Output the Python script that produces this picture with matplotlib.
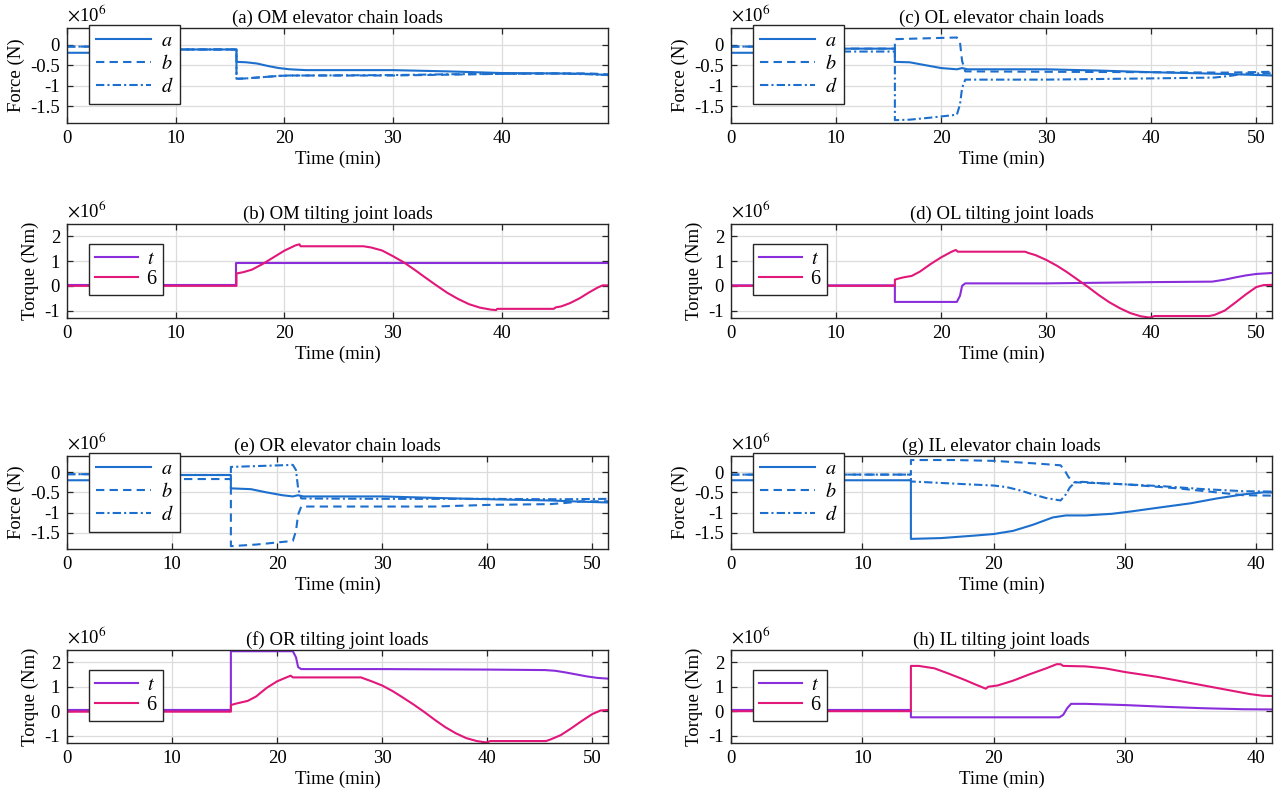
import matplotlib
matplotlib.use("Agg")
import matplotlib.pyplot as plt
from matplotlib.ticker import FormatStrFormatter

plt.rcParams['font.family'] = ['Liberation Serif', 'DejaVu Serif']
plt.rcParams['mathtext.fontset'] = 'stix'
plt.rcParams['axes.unicode_minus'] = False

BLUE = '#1d6fcd'
PURPLE = '#8a2ddb'
PINK = '#e2177a'

# ---- (a) OM elevator chain loads ----
om_el_ta = [0, 8, 8, 15.6, 15.6, 16.5, 17.5, 18.5, 19.5, 20.5, 22, 30, 35, 40, 45, 48, 49.8]
om_el_a = [-0.2, -0.2, -0.12, -0.12, -0.42, -0.43, -0.46, -0.52, -0.57, -0.6, -0.62, -0.62, -0.65, -0.69, -0.7, -0.71, -0.74]
om_el_tb = [0, 8, 8, 15.6, 15.6, 16.5, 17.5, 18.5, 19.5, 20.5, 22, 30, 35, 40, 45, 48, 49.8]
om_el_b = [-0.05, -0.05, -0.12, -0.12, -0.83, -0.82, -0.8, -0.78, -0.76, -0.75, -0.75, -0.75, -0.73, -0.71, -0.7, -0.7, -0.72]
om_el_td = [0, 8, 8, 15.6, 15.6, 16.5, 17.5, 18.5, 19.5, 20.5, 22, 30, 35, 40, 45, 48, 49.8]
om_el_d = [-0.05, -0.05, -0.12, -0.12, -0.83, -0.82, -0.8, -0.78, -0.76, -0.75, -0.75, -0.74, -0.72, -0.71, -0.7, -0.72, -0.74]

# ---- (b) OM tilting joint loads ----
om_tj_tt = [0, 15.6, 15.6, 49.8]
om_tj_t = [0.02, 0.02, 0.92, 0.92]
om_tj_t6 = [0, 15.6, 15.6, 16.2, 17, 18, 19, 20, 21, 21.4, 21.5, 27.3, 28, 29, 30, 31, 32, 33, 34, 35, 36, 37, 38, 39,
            39.5, 39.6, 44.8, 45, 45.5, 46.3, 47.2, 48, 48.8, 49.3, 49.8]
om_tj_6 = [0, 0, 0.5, 0.55, 0.65, 0.88, 1.15, 1.42, 1.63, 1.68, 1.6, 1.6, 1.55, 1.43, 1.2, 0.95, 0.65, 0.33, 0.02, -0.28,
           -0.53, -0.74, -0.88, -0.96, -0.98, -0.93, -0.93, -0.87, -0.83, -0.7, -0.5, -0.28, -0.08, 0.02, 0.02]

# ---- (c) OL elevator chain loads ----
ol_el_ta = [0, 8, 8, 15.6, 15.6, 17, 18.5, 20, 21.5, 22, 22.5, 30, 35, 40, 45, 48, 51.5]
ol_el_a = [-0.2, -0.2, -0.1, -0.1, -0.42, -0.43, -0.5, -0.57, -0.6, -0.57, -0.6, -0.6, -0.63, -0.67, -0.7, -0.72, -0.75]
ol_el_tb = [0, 8, 8, 15.6, 15.6, 21.5, 21.8, 22.0, 22.3, 30, 40, 47, 51.5]
ol_el_b = [-0.05, -0.05, -0.1, -0.1, 0.13, 0.17, 0.05, -0.4, -0.65, -0.66, -0.67, -0.68, -0.66]
ol_el_td = [0, 8, 8, 15.6, 15.6, 17, 19, 21.5, 21.8, 22.0, 22.3, 30, 40, 46, 47.5, 49, 51.5]
ol_el_d = [-0.05, -0.05, -0.17, -0.17, -1.83, -1.82, -1.77, -1.7, -1.45, -1.05, -0.85, -0.85, -0.82, -0.8, -0.76, -0.7, -0.7]

# ---- (d) OL tilting joint loads ----
ol_tj_tt = [0, 15.6, 15.6, 21.5, 21.8, 22.0, 22.3, 30, 40, 45.8, 47, 48, 49, 50, 51.5]
ol_tj_t = [0.02, 0.02, -0.65, -0.65, -0.4, 0.0, 0.1, 0.1, 0.15, 0.17, 0.25, 0.34, 0.42, 0.48, 0.52]
ol_tj_t6 = [0, 15.6, 15.6, 16, 16.5, 17.2, 18, 19, 20, 21, 21.4, 21.6, 28, 28.3, 29, 30, 31, 32, 33, 34, 35, 36, 37, 38,
            39, 39.8, 40, 40.3, 45.5, 46, 47, 48, 49, 50, 50.7, 51.5]
ol_tj_6 = [0, 0, 0.25, 0.3, 0.35, 0.4, 0.58, 0.88, 1.15, 1.38, 1.45, 1.38, 1.38, 1.33, 1.24, 1.05, 0.82, 0.55, 0.25,
           -0.05, -0.37, -0.66, -0.9, -1.1, -1.23, -1.28, -1.27, -1.22, -1.22, -1.18, -1.0, -0.68, -0.35, -0.05, 0.03, 0.04]

# ---- (e) OR elevator chain loads ----
or_el_ta = [0, 8, 8, 15.6, 15.6, 17.5, 19, 20.5, 21.5, 22, 22.5, 30, 37, 42, 46, 49, 51.5]
or_el_a = [-0.2, -0.2, -0.07, -0.07, -0.4, -0.42, -0.5, -0.57, -0.6, -0.57, -0.6, -0.6, -0.65, -0.68, -0.7, -0.73, -0.75]
or_el_tb = [0, 8, 8, 15.6, 15.6, 18, 21.5, 21.8, 22.0, 22.3, 35, 40, 46, 47.5, 49, 51.5]
or_el_b = [-0.05, -0.05, -0.17, -0.17, -1.83, -1.79, -1.7, -1.45, -1.05, -0.85, -0.85, -0.81, -0.79, -0.76, -0.72, -0.72]
or_el_td = [0, 8, 8, 15.6, 15.6, 21.5, 21.8, 22.0, 22.3, 30, 40, 47, 51.5]
or_el_d = [-0.05, -0.05, -0.07, -0.07, 0.13, 0.18, 0.05, -0.4, -0.65, -0.66, -0.66, -0.67, -0.66]

# ---- (f) OR tilting joint loads ----
or_tj_tt = [0, 15.6, 15.6, 21.5, 21.8, 22.0, 22.3, 30, 40, 45.5, 46.5, 47.5, 48.5, 49.5, 50.5, 51.5]
or_tj_t = [0.05, 0.05, 2.45, 2.45, 2.2, 1.8, 1.72, 1.72, 1.7, 1.68, 1.65, 1.58, 1.5, 1.42, 1.36, 1.33]
or_tj_t6 = [0, 15.6, 15.6, 16, 16.5, 17.2, 18, 19, 20, 21, 21.3, 21.5, 28, 28.3, 29, 30, 31, 32, 33, 34, 35, 36, 37, 38,
            39, 39.8, 40, 40.3, 45.6, 46, 47, 48, 49, 50, 50.8, 51.5]
or_tj_6 = [-0.02, -0.02, 0.25, 0.3, 0.35, 0.42, 0.6, 0.95, 1.22, 1.4, 1.45, 1.38, 1.38, 1.33, 1.22, 1.05, 0.82, 0.55,
           0.27, -0.03, -0.35, -0.65, -0.9, -1.1, -1.22, -1.27, -1.27, -1.22, -1.22, -1.16, -0.98, -0.7, -0.4, -0.12, 0.03, 0.05]

# ---- (g) IL elevator chain loads ----
il_el_ta = [0, 13.7, 13.7, 16, 18.5, 20, 21.5, 23, 24.5, 25.5, 27, 29, 30.5, 32.5, 35, 37, 39, 40.5, 41.2]
il_el_a = [-0.2, -0.2, -1.65, -1.63, -1.57, -1.53, -1.45, -1.3, -1.12, -1.07, -1.07, -1.03, -0.97, -0.88, -0.77, -0.65,
           -0.55, -0.5, -0.5]
il_el_tb = [0, 13.7, 13.7, 17, 20, 23, 25.1, 25.4, 25.7, 26.1, 27, 30, 34, 37, 39, 41.2]
il_el_b = [-0.06, -0.06, 0.3, 0.3, 0.28, 0.22, 0.17, 0.05, -0.12, -0.25, -0.26, -0.3, -0.4, -0.5, -0.57, -0.58]
il_el_td = [0, 13.7, 13.7, 15, 18, 20, 21, 22, 23, 24, 25.1, 25.5, 25.8, 26.2, 26.8, 28, 30, 33, 36, 39, 41.2]
il_el_d = [-0.06, -0.06, -0.23, -0.25, -0.3, -0.33, -0.37, -0.45, -0.55, -0.64, -0.7, -0.55, -0.38, -0.25, -0.24,
           -0.27, -0.3, -0.35, -0.42, -0.47, -0.48]

# ---- (h) IL tilting joint loads ----
il_tj_tt = [0, 13.7, 13.7, 25.0, 25.3, 25.6, 25.9, 27, 30, 33, 36, 39, 41.2]
il_tj_t = [0.05, 0.05, -0.25, -0.25, -0.15, 0.12, 0.3, 0.3, 0.25, 0.18, 0.12, 0.08, 0.07]
il_tj_t6 = [0, 13.7, 13.7, 14.3, 15.5, 16.5, 17.7, 18.8, 19.4, 19.6, 20.3, 21.5, 22.7, 24, 24.8, 25.1, 25.3, 27, 28.5,
            30, 32.5, 35, 37.5, 39.5, 40.5, 41.2]
il_tj_6 = [0, 0, 1.85, 1.85, 1.75, 1.55, 1.3, 1.05, 0.92, 1.0, 1.05, 1.25, 1.5, 1.75, 1.92, 1.92, 1.85, 1.83, 1.75,
           1.6, 1.4, 1.15, 0.9, 0.7, 0.63, 0.62]

FS = 13.5
fig = plt.figure(figsize=(12.76, 7.95), dpi=100)

col_left = [67 / 1276, 731 / 1276]
col_w = 541 / 1276
rows = [(28, 123), (224, 318), (456, 549), (650, 743)]


def make_ax(col, row):
    top, bot = rows[row]
    ax = fig.add_axes([col_left[col], 1 - bot / 795, col_w, (bot - top) / 795])
    ax.grid(True, color='#dcdcdc', lw=0.9)
    ax.set_axisbelow(True)
    ax.tick_params(direction='in', top=True, right=True, labelsize=FS, length=4, width=0.9,
                   color='#262626', pad=5)
    for s in ax.spines.values():
        s.set_color('#262626')
        s.set_linewidth(1.0)
    ax.yaxis.set_major_formatter(FormatStrFormatter('%g'))
    ax.set_xlabel('Time (min)', fontsize=FS, labelpad=3)
    ax.text(0, 1.025, r'$\times$10$^{6}$', transform=ax.transAxes, fontsize=FS, va='bottom', ha='left')
    return ax


def force_panel(col, row, title, xmax, ta, a, tb, b, td, d):
    ax = make_ax(col, row)
    ax.plot(ta, a, color=BLUE, lw=1.5, ls='-', label='$a$')
    ax.plot(tb, b, color=BLUE, lw=1.5, ls=(0, (4, 2.5)), label='$b$')
    ax.plot(td, d, color=BLUE, lw=1.5, ls=(0, (4, 1.5, 1, 1.5)), label='$d$')
    ax.set_xlim(0, xmax)
    ax.set_ylim(-1.9, 0.4)
    ax.set_yticks([-1.5, -1, -0.5, 0])
    ax.set_xticks(range(0, int(xmax) + 1, 10))
    ax.set_ylabel('Force (N)', fontsize=FS, labelpad=4)
    ax.set_title(title, fontsize=FS, pad=4)
    leg = ax.legend(loc='upper left', bbox_to_anchor=(0.041, 1.035), fontsize=FS + 1, handlelength=2.7,
                    labelspacing=0.2, borderpad=0.35, handletextpad=0.5, fancybox=False, framealpha=1,
                    edgecolor='#262626', borderaxespad=0)
    leg.get_frame().set_linewidth(1.0)
    return ax


def torque_panel(col, row, title, xmax, tt, t, t6, v6):
    ax = make_ax(col, row)
    ax.plot(tt, t, color=PURPLE, lw=1.5, label='$t$')
    ax.plot(t6, v6, color=PINK, lw=1.5, label='6')
    ax.set_xlim(0, xmax)
    ax.set_ylim(-1.3, 2.5)
    ax.set_yticks([-1, 0, 1, 2])
    ax.set_xticks(range(0, int(xmax) + 1, 10))
    ax.set_ylabel('Torque (Nm)', fontsize=FS, labelpad=4)
    ax.set_title(title, fontsize=FS, pad=4)
    leg = ax.legend(loc='upper left', bbox_to_anchor=(0.041, 0.79), fontsize=FS + 1, handlelength=2.1,
                    labelspacing=0.05, borderpad=0.3, handletextpad=0.45, fancybox=False, framealpha=1,
                    edgecolor='#262626', borderaxespad=0)
    leg.get_frame().set_linewidth(1.0)
    return ax


force_panel(0, 0, '(a) OM elevator chain loads', 49.8, om_el_ta, om_el_a, om_el_tb, om_el_b, om_el_td, om_el_d)
torque_panel(0, 1, '(b) OM tilting joint loads', 49.8, om_tj_tt, om_tj_t, om_tj_t6, om_tj_6)
force_panel(1, 0, '(c) OL elevator chain loads', 51.5, ol_el_ta, ol_el_a, ol_el_tb, ol_el_b, ol_el_td, ol_el_d)
torque_panel(1, 1, '(d) OL tilting joint loads', 51.5, ol_tj_tt, ol_tj_t, ol_tj_t6, ol_tj_6)
force_panel(0, 2, '(e) OR elevator chain loads', 51.5, or_el_ta, or_el_a, or_el_tb, or_el_b, or_el_td, or_el_d)
torque_panel(0, 3, '(f) OR tilting joint loads', 51.5, or_tj_tt, or_tj_t, or_tj_t6, or_tj_6)
force_panel(1, 2, '(g) IL elevator chain loads', 41.2, il_el_ta, il_el_a, il_el_tb, il_el_b, il_el_td, il_el_d)
torque_panel(1, 3, '(h) IL tilting joint loads', 41.2, il_tj_tt, il_tj_t, il_tj_t6, il_tj_6)

fig.savefig('out.png', dpi=100)
